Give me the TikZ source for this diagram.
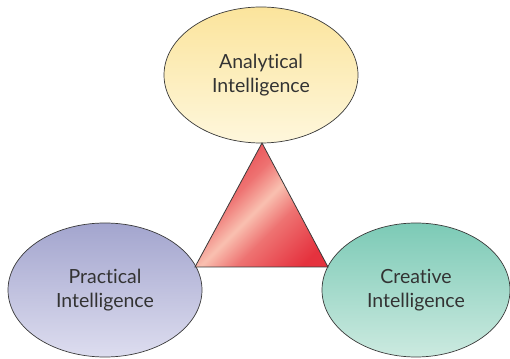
\documentclass[tikz,border=0pt]{standalone}
\usepackage{fontspec}
\setmainfont{Lato}[Ligatures=NoCommon]
\usetikzlibrary{shapes.geometric}
\definecolor{txt}{HTML}{333333}
\definecolor{edge}{HTML}{3A3A3A}
\definecolor{yelT}{HTML}{FBE49C}
\definecolor{yelB}{HTML}{FEF7DC}
\definecolor{bluT}{HTML}{A3A5CE}
\definecolor{bluB}{HTML}{DDDDEF}
\definecolor{grnT}{HTML}{7CCAB6}
\definecolor{grnB}{HTML}{CCEAE0}
\definecolor{redD}{HTML}{E5323E}
\definecolor{redL}{HTML}{F9C0B0}
\pgfdeclareverticalshading{trishade}{100bp}{color(0bp)=(redD); color(22bp)=(redD); color(40bp)=(redD!55!redL); color(50bp)=(redL); color(60bp)=(redD!55!redL); color(78bp)=(redD); color(100bp)=(redD)}
\tikzset{
  blob/.style={ellipse, draw=edge, line width=0.7pt, inner sep=0pt, align=center,
    font=\fontsize{19.5}{23.5}\selectfont, text=txt},
}
\begin{document}
\begin{tikzpicture}[x=1pt,y=1pt]
\useasboundingbox (0,0) rectangle (510,358);
\node[blob, minimum width=194pt, minimum height=136pt, top color=yelT, bottom color=yelB] (ana) at (261,283) {Analytical\\Intelligence};
\node[blob, minimum width=194pt, minimum height=134pt, top color=bluT, bottom color=bluB] (pra) at (105,68) {Practical\\Intelligence};
\node[blob, minimum width=188pt, minimum height=134pt, top color=grnT, bottom color=grnB] (cre) at (416,68) {Creative\\Intelligence};
\coordinate (apex) at (262,215);
\coordinate (bl) at (195,91);
\coordinate (br) at (328,91);
\draw[draw=edge, line width=0.8pt, line join=miter, shading=trishade, shading angle=45] (apex) -- (bl) -- (br) -- cycle;
\end{tikzpicture}
\end{document}
